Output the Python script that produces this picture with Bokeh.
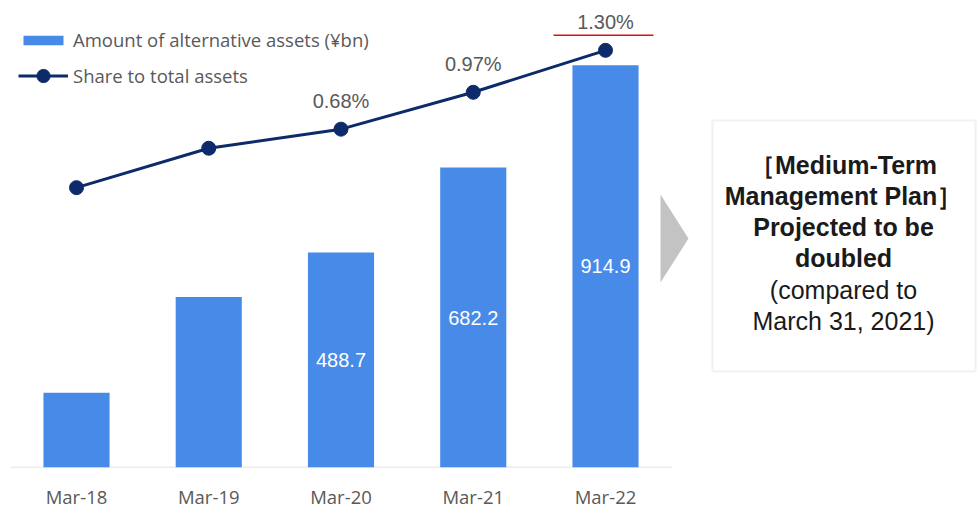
from bokeh.plotting import figure
from bokeh.models import (Range1d, FixedTicker, ColumnDataSource, Legend, LegendItem,
                          BoxAnnotation, PolyAnnotation, Label)
from bokeh.core.properties import value
from bokeh.embed import file_html
from bokeh.resources import INLINE

# ---------------- data ----------------
categories = ["Mar-18", "Mar-19", "Mar-20", "Mar-21", "Mar-22"]
amounts = [170.0, 388.0, 488.7, 682.2, 914.9]
amount_labels = ["", "", "488.7", "682.2", "914.9"]
shares = [0.22, 0.53, 0.68, 0.97, 1.30]
share_labels = ["", "", "0.68%", "0.97%", "1.30%"]
legend_labels = ["Amount of alternative assets (\u00a5bn)", "Share to total assets"]
box_bold = ["\uff3bMedium-Term", "Management Plan\uff3d", "Projected to be", "doubled"]
box_normal = ["(compared to", "March 31, 2021)"]

# ---------------- style / layout ----------------
W, H = 978, 511
FRAME_H = 468
BAR_COLOR = "#488ae8"
NAVY = "#0d2b6b"
GRAY_TXT = "#595959"
STEP = 132.25          # pixels between categories
FIRST = 76.0           # pixel x of first category

x_idx = list(range(len(categories)))
src = ColumnDataSource(dict(x=x_idx, amount=amounts, half=[a / 2 for a in amounts],
                            alab=amount_labels, share=shares, slab=share_labels))

p = figure(width=W, height=H, output_backend="svg", toolbar_location=None,
           x_range=Range1d(-FIRST / STEP, (W - FIRST) / STEP),
           y_range=Range1d(0, 1062), y_axis_location=None,
           min_border_left=0, min_border_right=0, min_border_top=0, min_border_bottom=H - FRAME_H)
p.outline_line_color = None
p.xgrid.visible = False
p.ygrid.visible = False
p.background_fill_color = "white"
p.border_fill_color = "white"
p.extra_y_ranges = {"share": Range1d(-1.981, 1.692)}

ax = p.xaxis[0]
ax.ticker = FixedTicker(ticks=x_idx)
ax.major_label_overrides = {i: c for i, c in enumerate(categories)}
ax.axis_line_color = None
ax.major_tick_line_color = None
ax.minor_tick_line_color = None
ax.major_tick_out = 0
ax.major_tick_in = 0
ax.major_label_standoff = 16
ax.major_label_text_font = "Open Sans"
ax.major_label_text_font_size = "18.5px"
ax.major_label_text_color = GRAY_TXT

# baseline
p.segment(x0=[x_idx[0] - 0.5], y0=[0], x1=[x_idx[-1] + 0.5], y1=[0],
          line_color="#d9d9d9", line_width=1.5)

bars = p.vbar(x="x", top="amount", width=0.5, source=src, fill_color=BAR_COLOR, line_color=None)
p.text(x="x", y="half", text="alab", source=src, text_align="center", text_baseline="middle",
       text_color="white", text_font=value("Liberation Sans"), text_font_size="20px")

ln = p.line(x="x", y="share", source=src, y_range_name="share", line_color=NAVY, line_width=3)
mk = p.scatter(x="x", y="share", source=src, y_range_name="share", size=14,
               fill_color=NAVY, line_color=NAVY)
p.text(x="x", y="share", text="slab", source=src, y_range_name="share", y_offset=-28,
       text_align="center", text_baseline="middle", text_color=GRAY_TXT,
       text_font=value("Liberation Sans"), text_font_size="20px")

common = dict(orientation="vertical", glyph_width=50, padding=0, margin=0, label_standoff=5,
              label_text_font="Open Sans", label_text_font_size="18.5px",
              label_text_color=GRAY_TXT, border_line_color=None, background_fill_alpha=0)
legend_a = Legend(items=[LegendItem(label=legend_labels[0], renderers=[bars])],
                  location=(18, 415), glyph_height=12, label_height=24, **common)
legend_b = Legend(items=[LegendItem(label=legend_labels[1], renderers=[ln, mk])],
                  location=(18, 375), glyph_height=33, label_height=24, **common)
p.add_layout(legend_a)
p.add_layout(legend_b)

def sy(px):
    return FRAME_H - px

# red underline under the last label
p.add_layout(BoxAnnotation(left=553, right=653, top=sy(35), bottom=sy(36.5),
                           left_units="screen", right_units="screen",
                           top_units="screen", bottom_units="screen",
                           fill_color="#e01010", fill_alpha=1, line_color=None))

# arrow
p.add_layout(PolyAnnotation(xs=[660, 688, 660], ys=[sy(195), sy(239), sy(283)],
                            xs_units="screen", ys_units="screen",
                            fill_color="#c3c3c3", fill_alpha=1, line_color=None))

# box
p.add_layout(BoxAnnotation(left=712, right=975, top=sy(121), bottom=sy(372),
                           left_units="screen", right_units="screen",
                           top_units="screen", bottom_units="screen",
                           fill_alpha=0, line_color="#cfcfcf", line_width=2))

lines = [(t, "bold") for t in box_bold] + [(t, "normal") for t in box_normal]
for i, (t, st) in enumerate(lines):
    p.add_layout(Label(x=843, y=sy(165 + 31.3 * i), x_units="screen", y_units="screen",
                       text=t, text_align="center", text_baseline="middle",
                       text_font="Liberation Sans", text_font_size="25px",
                       text_font_style=st, text_color="#1a1a1a"))

open("out.html", "w").write(file_html(p, INLINE))
